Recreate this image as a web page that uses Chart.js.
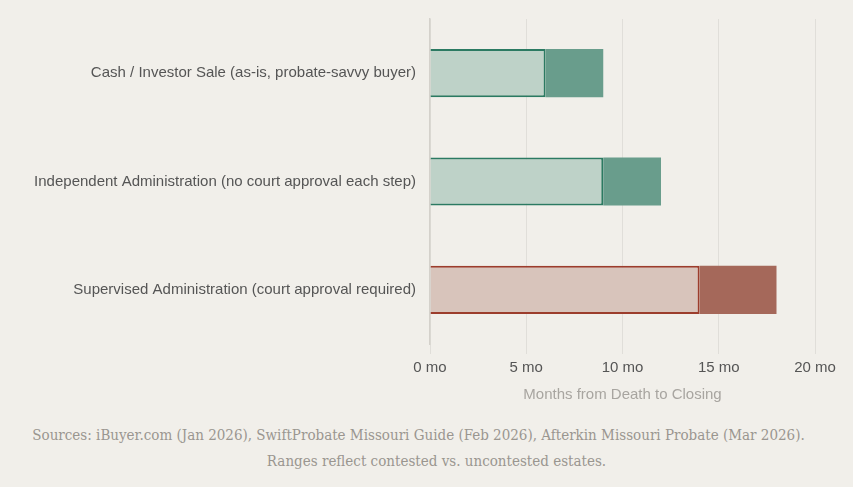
<!DOCTYPE html>
<html>
<head>
<meta charset="utf-8">
<script src="https://cdn.jsdelivr.net/npm/chart.js@4.4.1/dist/chart.umd.min.js"></script>
<style>
  html, body { margin: 0; padding: 0; background: #f1efea; }
  .wrap { width: 853px; height: 408px; position: relative; }
  .note {
    font-family: 'DejaVu Serif Condensed', 'DejaVu Serif', Georgia, serif;
    font-stretch: condensed;
    font-size: 15px;
    color: #9a9690;
    text-align: center;
    line-height: 26px;
    margin-top: 14px;
  }
  .note .l1 { padding-right: 16px; }
  .note .l2 { padding-left: 20px; }
</style>
</head>
<body>
<div class="wrap"><canvas id="timeline"></canvas></div>
<div class="note">
  <div class="l1">Sources: iBuyer.com (Jan 2026), SwiftProbate Missouri Guide (Feb 2026), Afterkin Missouri Probate (Mar 2026).</div>
  <div class="l2">Ranges reflect contested vs. uncontested estates.</div>
</div>
<script>
const paths = [
  'Cash / Investor Sale (as-is, probate-savvy buyer)',
  'Independent Administration (no court approval each step)',
  'Supervised Administration (court approval required)'
];
const minMonths = [6, 9, 14];
const maxMonths = [9, 12, 18];
const xTicks = [0, 5, 10, 15, 20];

const lightFill = ['#bed2c8', '#bed2c8', '#d8c4bb'];
const lightBorder = ['#2b7a62', '#2b7a62', '#9c3d2c'];
const darkFill = ['#699d8c', '#699d8c', '#a5685a'];

const ctx = document.getElementById('timeline').getContext('2d');

const chart = new Chart(ctx, {
  type: 'bar',
  data: {
    labels: paths,
    datasets: [{
      label: 'Typical (uncontested)',
      data: minMonths,
      backgroundColor: lightFill,
      borderColor: lightBorder,
      borderWidth: 2,
      grouped: false,
      order: 1
    }, {
      label: 'Contested',
      data: paths.map((p, i) => [minMonths[i], maxMonths[i]]),
      backgroundColor: darkFill,
      borderWidth: 0,
      grouped: false,
      order: 2
    }]
  },
  options: {
    indexAxis: 'y',
    responsive: true,
    maintainAspectRatio: false,
    animation: false,
    categoryPercentage: 0.8,
    barPercentage: 0.555,
    layout: {
      padding: {top: 19, right: 38, left: 20, bottom: 0}
    },
    plugins: {
      legend: { display: false },
      tooltip: { enabled: false }
    },
    scales: {
      x: {
        min: 0,
        max: 20,
        afterBuildTicks: (scale) => {
          scale.ticks = xTicks.map(v => ({value: v}));
        },
        ticks: {
          color: '#555',
          font: { family: 'Liberation Sans, Arial, sans-serif', size: 15 },
          padding: 5,
          callback: (v) => v + ' mo'
        },
        grid: {
          color: 'rgba(0,0,0,0.07)',
          tickLength: 10
        },
        border: { display: false },
        title: {
          display: true,
          text: 'Months from Death to Closing',
          color: '#a8a5a0',
          font: { family: 'Liberation Sans, Arial, sans-serif', size: 15 },
          padding: { top: 4, bottom: 4 }
        }
      },
      y: {
        afterFit: (scale) => { scale.width = 410; },
        ticks: {
          color: '#555',
          font: { family: 'Liberation Sans, Arial, sans-serif', size: 15 },
          padding: 6
        },
        grid: { display: false },
        border: { display: true, color: '#d4d1cb', width: 1.5 }
      }
    }
  }
});
</script>
</body>
</html>
